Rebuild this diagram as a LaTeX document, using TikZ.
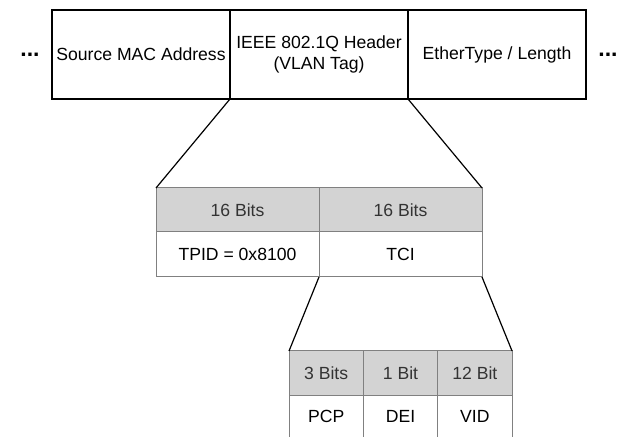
\documentclass[tikz,border=0pt]{standalone}
\usepackage{fontspec}
\setmainfont{Liberation Sans}
\usepackage{tikz}
\usetikzlibrary{positioning}
\definecolor{cellgray}{HTML}{D3D3D3}
\definecolor{rulegray}{HTML}{808080}
\definecolor{labelgray}{HTML}{333333}

\begin{document}
\begin{tikzpicture}[x=0.5pt, y=-0.5pt, line width=0.6pt,
    font=\fontsize{8.8}{10.6}\selectfont,
    field/.style={draw=black, line width=0.75pt, minimum width=89pt,
      minimum height=44.5pt, inner sep=0pt, outer sep=0pt, align=center},
    bitcell/.style={draw=rulegray, line width=0.5pt, fill=cellgray,
      text=labelgray, minimum height=22pt, inner sep=0pt, outer sep=0pt},
    namecell/.style={draw=rulegray, line width=0.5pt, minimum height=22.5pt,
      inner sep=0pt, outer sep=0pt},
    subcell/.style={inner sep=0pt, outer sep=0pt, minimum width=37.17pt},
    cellrule/.style={draw=rulegray, line width=0.5pt},
    more/.style={font=\fontsize{11.5}{13}\selectfont\bfseries, inner sep=0pt}]

  \useasboundingbox (0,0) rectangle (622,437);

  % -- the Ethernet frame, with the tag in the middle -----------------------
  \node[field] (src) at (141,54.5) {Source MAC Address};
  \node[field, right=0pt of src] (hdr) {IEEE 802.1Q Header\\(VLAN Tag)};
  \node[field, right=0pt of hdr] (eth) {EtherType / Length};
  \node[more] (ldots) at (30,55) {...};
  \node[more] (rdots) at (608,55) {...};

  % -- the tag: TPID and TCI ----------------------------------------------
  \node[bitcell, minimum width=81.5pt] (tpidbits) at (237.5,210) {16 Bits};
  \node[bitcell, minimum width=81.5pt, right=0pt of tpidbits] (tcibits) {16 Bits};
  \node[namecell, minimum width=81.5pt, below=0pt of tpidbits] (tpid) {TPID = 0x8100};
  \node[namecell, minimum width=81.5pt, below=0pt of tcibits] (tci) {TCI};

  \draw (hdr.south west) -- (tpidbits.north west);
  \draw (hdr.south east) -- (tcibits.north east);

  % -- the TCI split up; its lower row runs off the page -------------------
  \node[bitcell, subcell, minimum height=22.5pt] (pcpbits) at (326.2,373.5) {3 Bits};
  \node[bitcell, subcell, minimum height=22.5pt, right=0pt of pcpbits] (deibits) {1 Bit};
  \node[bitcell, subcell, minimum height=22.5pt, right=0pt of deibits] (vidbits) {12 Bit};
  \node[subcell, minimum height=20.5pt, below=0pt of pcpbits] (pcp) {PCP};
  \node[subcell, minimum height=20.5pt, below=0pt of deibits] (dei) {DEI};
  \node[subcell, minimum height=20.5pt, below=0pt of vidbits] (vid) {VID};
  \foreach \c in {pcp,dei,vid}
    \draw[cellrule] (\c.north west) -- (\c.south west);
  \draw[cellrule] (vid.north east) -- (vid.south east);

  \draw (tci.south west) -- (pcpbits.north west);
  \draw (tci.south east) -- (vidbits.north east);

\end{tikzpicture}
\end{document}
